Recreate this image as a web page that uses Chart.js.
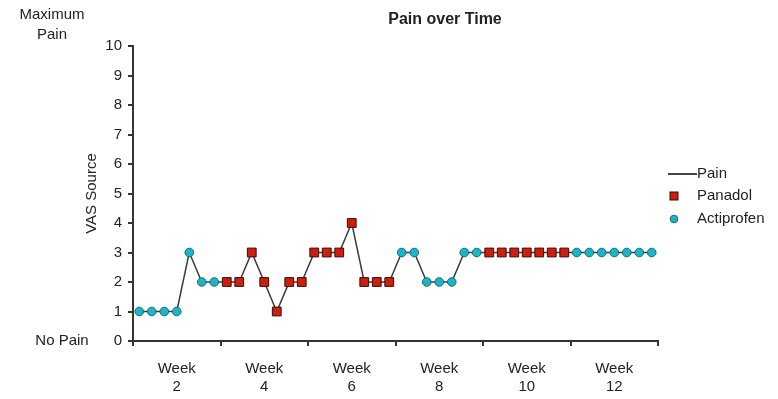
<!DOCTYPE html>
<html>
<head>
<meta charset="utf-8">
<script src="https://cdn.jsdelivr.net/npm/chart.js@4"></script>
<style>
  html, body { margin: 0; padding: 0; background: #fff; }
</style>
</head>
<body>
<canvas id="painChart" width="778" height="399"></canvas>
<script>
const weekLabels = ["2", "4", "6", "8", "10", "12"];

// one VAS score per day, 7 days per week label
const painScores = [
  1, 1, 1, 1, 3, 2, 2,
  2, 2, 3, 2, 1, 2, 2,
  3, 3, 3, 4, 2, 2, 2,
  3, 3, 2, 2, 2, 3, 3,
  3, 3, 3, 3, 3, 3, 3,
  3, 3, 3, 3, 3, 3, 3,
];

// P = Panadol, A = Actiprofen
const medication = [
  "A", "A", "A", "A", "A", "A", "A",
  "P", "P", "P", "P", "P", "P", "P",
  "P", "P", "P", "P", "P", "P", "P",
  "A", "A", "A", "A", "A", "A", "A",
  "P", "P", "P", "P", "P", "P", "P",
  "A", "A", "A", "A", "A", "A", "A",
];

const yTicks = [0, 1, 2, 3, 4, 5, 6, 7, 8, 9, 10];

const DAYS = 7;
const FONT = "'Liberation Sans', Arial, sans-serif";
const TEXT = "#222";

const painPoints = painScores.map((v, i) => ({ x: i + 0.5, y: v }));
const pointsFor = (code) =>
  painScores.map((v, i) => ({ x: i + 0.5, y: medication[i] === code ? v : null }));

const notes = {
  id: "notes",
  afterDraw(chart) {
    const ctx = chart.ctx;
    const y = chart.scales.y;
    ctx.save();
    ctx.fillStyle = TEXT;
    ctx.textAlign = "center";
    ctx.textBaseline = "middle";

    ctx.font = "bold 16px " + FONT;
    ctx.fillText("Pain over Time", 445, 20);

    ctx.font = "15px " + FONT;
    ctx.fillText("Maximum", 52, 15);
    ctx.fillText("Pain", 52, 35);
    ctx.fillText("No Pain", 62, y.getPixelForValue(0));

    // legend
    ctx.textAlign = "left";
    ctx.strokeStyle = "#444";
    ctx.lineWidth = 2;
    ctx.beginPath();
    ctx.moveTo(668, 174);
    ctx.lineTo(697, 174);
    ctx.stroke();
    ctx.fillText("Pain", 697, 174);

    ctx.fillStyle = "#cc1f10";
    ctx.strokeStyle = "#3a0a05";
    ctx.lineWidth = 1;
    ctx.fillRect(670, 192, 8, 8);
    ctx.strokeRect(670, 192, 8, 8);
    ctx.fillStyle = TEXT;
    ctx.fillText("Panadol", 697, 196);

    ctx.fillStyle = "#1fb3c8";
    ctx.strokeStyle = "#0d6f73";
    ctx.beginPath();
    ctx.arc(674, 219, 3.8, 0, Math.PI * 2);
    ctx.fill();
    ctx.stroke();
    ctx.fillStyle = TEXT;
    ctx.fillText("Actiprofen", 697, 219);

    ctx.restore();
  },
};

new Chart(document.getElementById("painChart"), {
  type: "line",
  data: {
    datasets: [
      {
        label: "Panadol",
        data: pointsFor("P"),
        showLine: false,
        pointStyle: "rect",
        pointRadius: 6.2,
        pointBackgroundColor: "#cc1f10",
        pointBorderColor: "#3a0a05",
        pointBorderWidth: 1,
        order: 1,
      },
      {
        label: "Actiprofen",
        data: pointsFor("A"),
        showLine: false,
        pointStyle: "circle",
        pointRadius: 4.3,
        pointBackgroundColor: "#1fb3c8",
        pointBorderColor: "#0d6f73",
        pointBorderWidth: 1,
        order: 2,
      },
      {
        label: "Pain",
        data: painPoints,
        borderColor: "#3a3a3a",
        borderWidth: 1.5,
        pointRadius: 0,
        tension: 0,
        order: 3,
      },
    ],
  },
  plugins: [notes],
  options: {
    responsive: false,
    animation: false,
    layout: {
      padding: { top: 46, right: 120, left: 83, bottom: 0 },
    },
    plugins: {
      legend: { display: false },
      title: { display: false },
      tooltip: { enabled: false },
    },
    scales: {
      x: {
        type: "linear",
        min: 0,
        max: painScores.length,
        afterBuildTicks: (scale) => {
          const ticks = [];
          for (let v = 0; v <= painScores.length; v += DAYS / 2) ticks.push({ value: v });
          scale.ticks = ticks;
        },
        afterFit: (scale) => {
          scale.height = 58;
        },
        border: { display: true, color: "#333", width: 2 },
        grid: {
          drawOnChartArea: false,
          drawTicks: true,
          tickLength: 5,
          lineWidth: 2,
          color: (ctx) =>
            ctx.tick && ctx.tick.value % DAYS === 0 ? "#333" : "rgba(0,0,0,0)",
        },
        ticks: {
          autoSkip: false,
          maxRotation: 0,
          padding: 14,
          color: TEXT,
          font: { size: 15, family: FONT, lineHeight: 1.2 },
          callback: (value) => {
            const w = (value - DAYS / 2) / DAYS;
            return Number.isInteger(w) && weekLabels[w] ? ["Week", weekLabels[w]] : "";
          },
        },
      },
      y: {
        min: 0,
        max: 10,
        afterBuildTicks: (scale) => {
          scale.ticks = yTicks.map((v) => ({ value: v }));
        },
        afterFit: (scale) => {
          scale.width = 50;
        },
        border: { display: true, color: "#333", width: 2 },
        grid: {
          drawOnChartArea: false,
          drawTicks: true,
          tickLength: 5,
          color: "#333",
          lineWidth: 2,
        },
        title: {
          display: true,
          text: "VAS Source",
          color: TEXT,
          font: { size: 15, family: FONT },
          padding: { top: 0, bottom: 4 },
        },
        ticks: {
          color: TEXT,
          padding: 6,
          font: { size: 15, family: FONT },
        },
      },
    },
  },
});
</script>
</body>
</html>
